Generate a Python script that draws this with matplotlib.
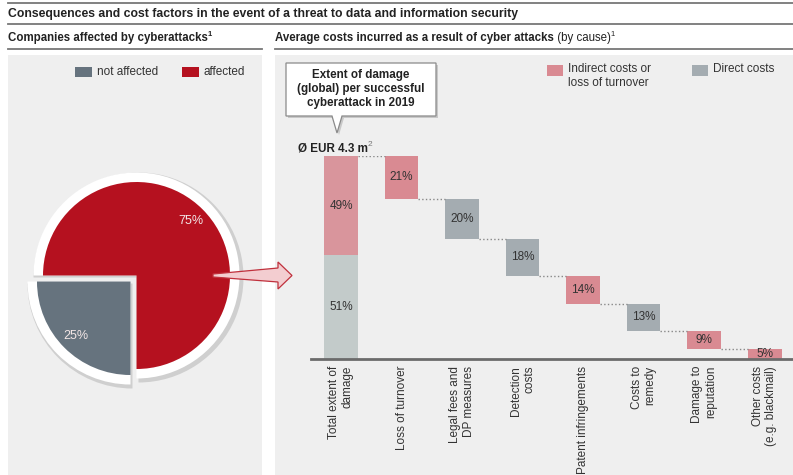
import matplotlib
matplotlib.use("Agg")
import matplotlib.pyplot as plt
from matplotlib.patches import Rectangle, Polygon

plt.rcParams['font.family'] = ['Liberation Sans', 'DejaVu Sans']

# Data
pie_labels = ['not affected', 'affected']
pie_values = [25, 75]

categories = ['Total extent of\ndamage', 'Loss of turnover', 'Legal fees and\nDP measures',
              'Detection\ncosts', 'Patent infringements', 'Costs to\nremedy',
              'Damage to\nreputation', 'Other costs\n(e.g. blackmail)']
cause_shares = [21, 20, 18, 14, 13, 9, 5]
cause_types = ['indirect', 'direct', 'direct', 'indirect', 'direct', 'indirect', 'indirect']
total_direct = 51
total_indirect = 49

RED = '#b5111f'
SLATE = '#66737e'
PINK = '#d98a92'
PINK_TOTAL = '#d9959c'
GREY = '#a4acb1'
GREY_TOTAL = '#c3cbca'
PANEL = '#efefef'
TXT = '#222222'

W, H = 793, 475
fig = plt.figure(figsize=(W / 100, H / 100), dpi=100)

# background axes in pixel coordinates
bg = fig.add_axes([0, 0, 1, 1])
bg.set_xlim(0, W)
bg.set_ylim(H, 0)
bg.axis('off')

bg.add_patch(Rectangle((8, 55), 254, 420, color=PANEL, lw=0))
bg.add_patch(Rectangle((275, 55), 518, 420, color=PANEL, lw=0))

bg.plot([8, W], [3, 3], color='#777777', lw=1.3)
bg.plot([8, W], [24, 24], color='#777777', lw=1.3)
bg.plot([8, 262], [49, 49], color='#777777', lw=1.3)
bg.plot([275, W], [49, 49], color='#777777', lw=1.3)

bg.text(8, 13.5, 'Consequences and cost factors in the event of a threat to data and information security',
        fontsize=8.8, fontweight='bold', color=TXT, va='center')
t1 = bg.text(8, 38, 'Companies affected by cyberattacks', fontsize=8.3, fontweight='bold',
             color=TXT, va='center')
bg.annotate('1', xy=(1, 0.75), xycoords=t1, fontsize=5.5, fontweight='bold', color=TXT,
            va='center', ha='left')
t2 = bg.text(275, 38, 'Average costs incurred as a result of cyber attacks', fontsize=8.3,
             fontweight='bold', color=TXT, va='center')
t3 = bg.annotate(' (by cause)', xy=(1, 0.5), xycoords=t2, fontsize=8.3, color=TXT,
                 va='center', ha='left')
bg.annotate('1', xy=(1, 0.75), xycoords=t3, fontsize=5.5, color=TXT, va='center', ha='left')

# left legend
bg.add_patch(Rectangle((75, 67), 17, 10, color=SLATE, lw=0))
bg.text(97, 72, 'not affected', fontsize=8.5, color='#333333', va='center')
bg.add_patch(Rectangle((182, 67), 17, 10, color=RED, lw=0))
bg.text(203, 72, 'affected', fontsize=8.5, color='#333333', va='center')

# right legend
bg.add_patch(Rectangle((547, 65), 16, 11, color=PINK, lw=0))
bg.text(568, 63, 'Indirect costs or\nloss of turnover', fontsize=8.5, color='#333333',
        va='top', linespacing=1.25)
bg.add_patch(Rectangle((692, 65), 16, 11, color=GREY, lw=0))
bg.text(713, 63, 'Direct costs', fontsize=8.5, color='#333333', va='top')

# callout box
call = [(286, 63), (436, 63), (436, 116), (342, 116), (337, 133), (332, 116), (286, 116)]
bg.add_patch(Polygon([(x + 2, y + 2) for x, y in call], closed=True, color='#c8c8c8', lw=0))
bg.add_patch(Polygon(call, closed=True, facecolor='white', edgecolor='#8a8a8a', lw=0.9))
bg.text(361, 89, 'Extent of damage\n(global) per successful\ncyberattack in 2019', fontsize=8.4,
        fontweight='bold', color=TXT, ha='center', va='center', linespacing=1.25)
t4 = bg.text(298, 148, 'Ø EUR 4.3 m', fontsize=8.4, fontweight='bold', color=TXT, va='center')
bg.annotate('2', xy=(1, 0.8), xycoords=t4, fontsize=6, color='#777777', va='center', ha='left')

# pie
cx, cy = 136.5, 275.5
pax = fig.add_axes([(cx - 120) / W, (H - cy - 120) / H, 240 / W, 240 / H])
expl = [8.5, 0]
pax.pie(pie_values, radius=105, center=(2, -2), startangle=180, explode=expl,
        colors=['#cfcfcf', '#cfcfcf'], frame=False)
pax.pie(pie_values, radius=103, startangle=180, explode=expl,
        colors=['white', 'white'], frame=False)
pax.pie(pie_values, radius=93.5, startangle=180, explode=expl, colors=[SLATE, RED],
        autopct='%d%%', pctdistance=0.83, frame=False,
        textprops={'color': '#f2e6e6', 'fontsize': 9})
pax.set_xlim(-120, 120)
pax.set_ylim(-120, 120)

# waterfall bars
bax = fig.add_axes([311 / W, (H - 359) / H, (W - 311) / W, (359 - 156) / H])
bax.patch.set_alpha(0)
bw = 0.56
bax.bar(0, total_direct, width=bw, color=GREY_TOTAL)
bax.bar(0, total_indirect, bottom=total_direct, width=bw, color=PINK_TOTAL)
bax.text(0, total_direct / 2, f'{total_direct}%', ha='center', va='center', fontsize=8.5, color='#333333')
bax.text(0, total_direct + total_indirect / 2, f'{total_indirect}%', ha='center', va='center',
         fontsize=8.5, color='#333333')

top = total_direct + total_indirect
prev_level = top
for i, (v, kind) in enumerate(zip(cause_shares, cause_types)):
    x = i + 1
    bottom = top - v
    bax.bar(x, v, bottom=bottom, width=bw, color=PINK if kind == 'indirect' else GREY)
    bax.text(x, bottom + v / 2, f'{v}%', ha='center', va='center', fontsize=8.5, color='#333333')
    bax.hlines(prev_level, x - 1 + bw / 2, x - bw / 2, colors='#888888', linestyles=':', lw=1)
    prev_level = bottom
    top = bottom

bax.set_ylim(0, 100)
bax.set_xlim(-0.496, 7.47)
bax.set_yticks([])
bax.set_xticks(range(len(categories)))
bax.set_xticklabels(categories, rotation=90, ha='center', va='top', multialignment='right',
                    fontsize=8.5, color='#333333')
bax.tick_params(axis='x', length=0, pad=5)
for s in ['top', 'left', 'right']:
    bax.spines[s].set_visible(False)
bax.spines['bottom'].set_color('#6b6b6b')
bax.spines['bottom'].set_linewidth(2)

# arrow from pie to waterfall
ov = fig.add_axes([0, 0, 1, 1], zorder=5)
ov.set_xlim(0, W)
ov.set_ylim(H, 0)
ov.axis('off')
arrow = [(213, 274), (278, 268), (278, 262), (292, 275.5), (278, 289), (278, 282), (213, 277)]
ov.add_patch(Polygon(arrow, closed=True, facecolor='#f3cdd0', edgecolor='#c0303c', lw=0.9))

fig.savefig('out.png', dpi=100)
